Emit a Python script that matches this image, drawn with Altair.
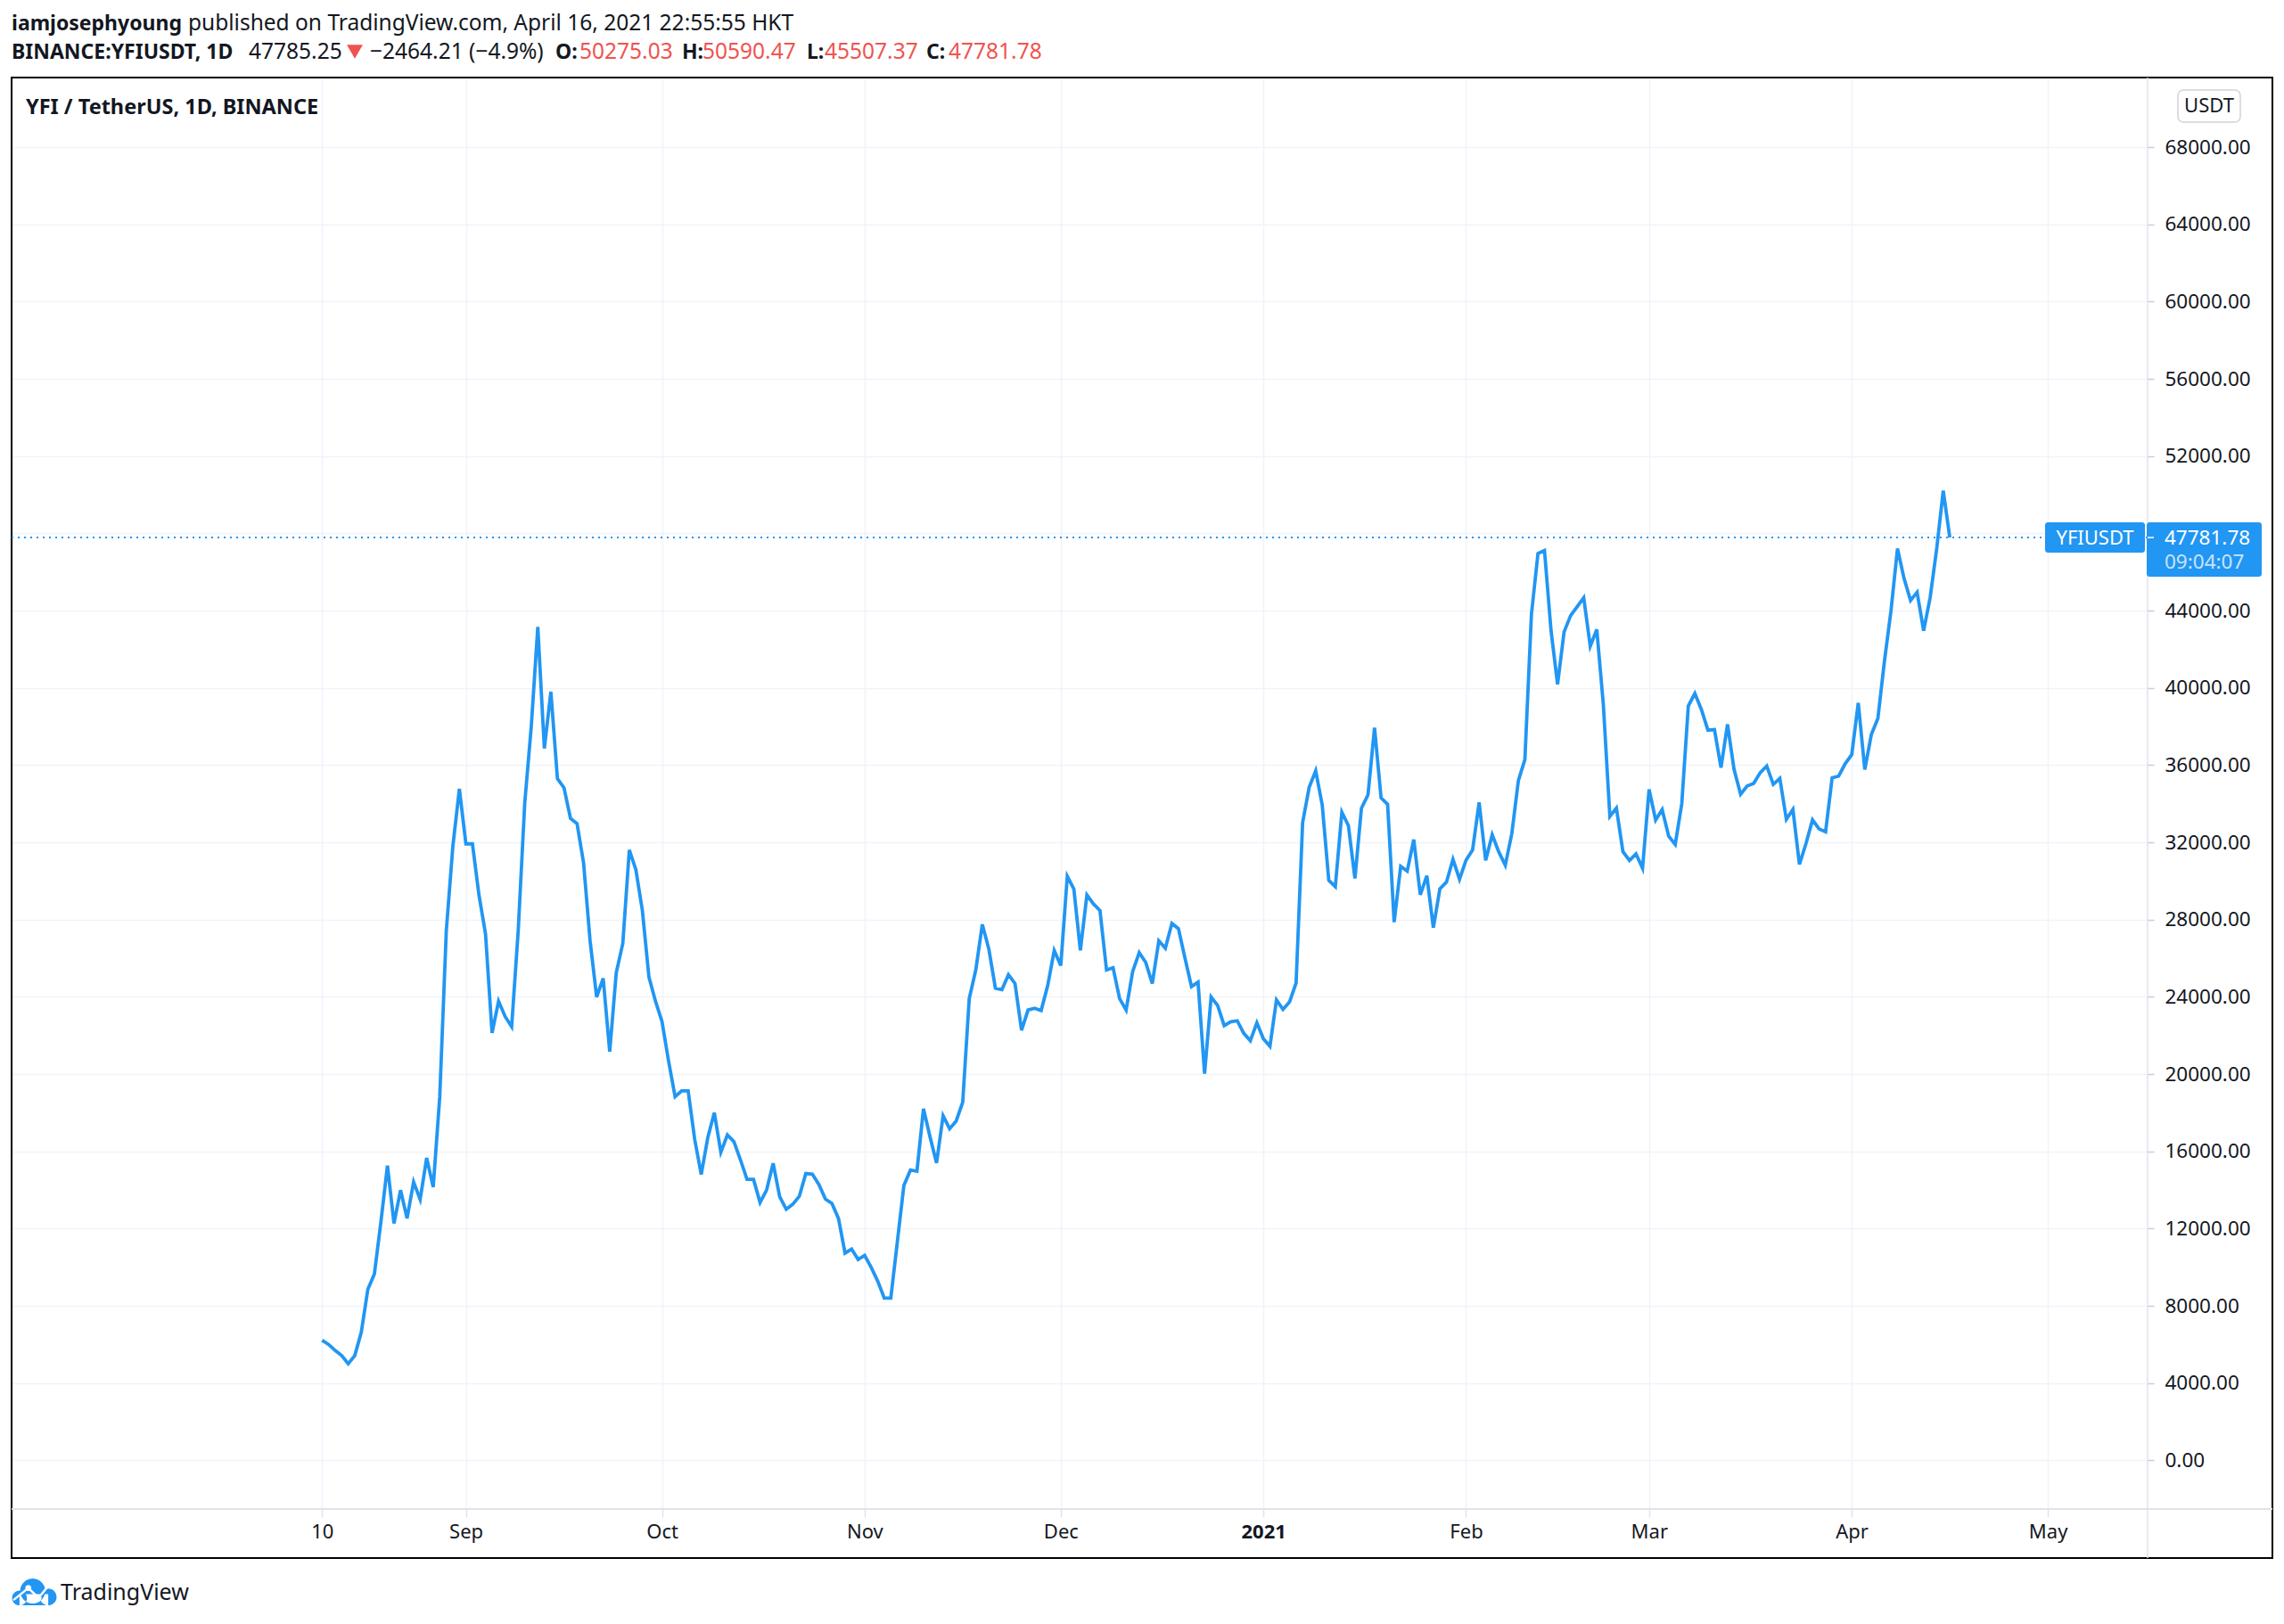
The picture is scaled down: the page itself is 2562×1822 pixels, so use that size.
import altair as alt
import pandas as pd

# ---------------- data (daily closes, YFI/USDT, Binance) ----------------
start_date = "2020-08-10"
aug = [6220, 6000, 5690, 5425, 5000, 5425, 6640, 8860, 9655, 12350, 15260,
       12270, 13990, 12530, 14410, 13515, 15660, 14150, 18830, 27420, 31780, 34770]
sep = [31920, 31920, 29270, 27260, 22130, 23770, 22980, 22450, 27420, 34030,
       38000, 43150, 36860, 39800, 35300, 34830, 33240, 32970, 30940, 26890,
       23990, 24960, 21160, 25250, 26760, 31600, 30590, 28460, 25020, 23780]
octo = [22720, 20680, 18830, 19130, 19130, 16620, 14800, 16710, 18000, 15950,
        16850, 16500, 15560, 14550, 14550, 13350, 14000, 15380, 13650, 13000,
        13260, 13670, 14850, 14820, 14280, 13530, 13300, 12520, 10730, 10940, 10400]
nov = [10610, 9990, 9280, 8400, 8400, 11310, 14230, 15030, 14970, 18210,
       16750, 15400, 17840, 17170, 17570, 18540, 23910, 25390, 27750, 26470,
       24450, 24370, 25150, 24690, 22270, 23320, 23410, 23290, 24580, 26400]
dec = [25620, 30240, 29590, 26400, 29280, 28810, 28470, 25390, 25510, 23910,
       23320, 25310, 26290, 25780, 24690, 26900, 26520, 27800, 27530, 26010,
       24530, 24760, 20020, 23990, 23550, 22510, 22710, 22760, 22110, 21730, 22660]
jan = [21830, 21440, 23840, 23350, 23740, 24720, 33020, 34850, 35700, 33930,
       30030, 29700, 33560, 32870, 30130, 33770, 34460, 37940, 34300, 33970,
       27870, 30760, 30510, 32140, 29290, 30270, 27580, 29600, 29940, 31120, 30090]
feb = [31080, 31610, 34070, 31060, 32390, 31510, 30820, 32450, 35190, 36290,
       43800, 46950, 47110, 42970, 40180, 42900, 43740, 44200, 44660, 42160,
       43020, 39140, 33340, 33770, 31520, 31060, 31400, 30660]
mar = [34740, 33160, 33700, 32320, 31890, 34000, 39060, 39710, 38880, 37810,
       37840, 35870, 38110, 35770, 34490, 34920, 35050, 35610, 35950, 35000,
       35310, 33190, 33700, 30860, 31930, 33160, 32700, 32550, 35340, 35430, 36070]
apr = [36540, 39220, 35770, 37580, 38420, 41370, 43980, 47210, 45670, 44520,
       44950, 42960, 44680, 47210, 50210, 47781.78]

y_ticks = list(range(0, 68001, 4000))
x_tick_dates = [(2020, 8, 10), (2020, 9, 1), (2020, 10, 1), (2020, 11, 1), (2020, 12, 1),
                (2021, 1, 1), (2021, 2, 1), (2021, 3, 1), (2021, 4, 1), (2021, 5, 1)]

closes = aug + sep + octo + nov + dec + jan + feb + mar + apr
dates = pd.date_range(start_date, periods=len(closes), freq="D")
df = pd.DataFrame({"date": dates.strftime("%Y-%m-%dT00:00:00"), "close": closes})
last_close = closes[-1]

# ---------------- styling ----------------
FONT = "Noto Sans"
TXT = "#131722"
BLUE = "#2196f3"
RED = "#ef5350"
GRID = "#f0f3fa"
SEP = "#e0e3eb"
W, H = 2395, 1606
FRAME_W, FRAME_H = 2536, 1661

x_scale = alt.Scale(domain=[alt.DateTime(year=2020, month=6, date=23, hours=12),
                            alt.DateTime(year=2021, month=5, date=16, hours=3)])
y_scale = alt.Scale(domain=[-2520, 71600], nice=False, zero=False)

x_axis = alt.Axis(
    values=[alt.DateTime(year=y, month=m, date=d) for (y, m, d) in x_tick_dates],
    labelExpr="date(datum.value) == 10 ? '10' : (month(datum.value) == 0 ? timeFormat(datum.value, '%Y') : timeFormat(datum.value, '%b'))",
    labelFontWeight={"condition": {"test": "month(datum.value) == 0", "value": "bold"}, "value": "normal"},
    grid=True, gridColor=GRID, gridWidth=1.5, domain=False,
    ticks=True, tickSize=9, tickColor=SEP, tickWidth=1.5,
    labelPadding=6, labelFontSize=22, labelFont=FONT, labelColor=TXT,
    labelFlush=False, labelOverlap=False, title=None,
)
y_axis = alt.Axis(
    orient="right", values=y_ticks, format=".2f",
    grid=True, gridColor=GRID, gridWidth=1.5, domain=False,
    ticks=True, tickSize=8, tickColor="#c9ccd4", tickWidth=1.5,
    labelPadding=12, labelFontSize=22.5, labelFont=FONT, labelColor=TXT,
    labelOverlap=False, labelFlush=False, title=None,
)

one = alt.Data(values=[{}])


def txt(s, x, y, size=22, color=TXT, weight="normal", align="left",
        baseline="alphabetic", opacity=1.0):
    return alt.Chart(one).mark_text(
        text=s, fontSize=size, color=color, fontWeight=weight, align=align,
        baseline=baseline, font=FONT, opacity=opacity
    ).encode(x=alt.value(x), y=alt.value(y))


line = alt.Chart(df).mark_line(color=BLUE, strokeWidth=3.8).encode(
    x=alt.X("date:T", scale=x_scale, axis=x_axis),
    y=alt.Y("close:Q", scale=y_scale, axis=y_axis),
)

price_df = pd.DataFrame({"close": [last_close]})
price_rule = alt.Chart(price_df).mark_rule(
    color=BLUE, strokeDash=[2, 5], strokeWidth=2
).encode(y=alt.Y("close:Q"), x=alt.value(0), x2=alt.value(W))

frame = alt.Chart(one).mark_rect(fillOpacity=0, stroke="#000000", strokeWidth=2).encode(
    x=alt.value(0), x2=alt.value(FRAME_W), y=alt.value(0), y2=alt.value(FRAME_H))
vsep = alt.Chart(one).mark_rule(color=SEP, strokeWidth=1.5).encode(
    x=alt.value(W + 1), y=alt.value(0), y2=alt.value(FRAME_H))
hsep = alt.Chart(one).mark_rule(color=SEP, strokeWidth=2).encode(
    x=alt.value(0), x2=alt.value(FRAME_W), y=alt.value(H))

# USDT badge
usdt_box = alt.Chart(one).mark_rect(fill="white", stroke="#d1d4dc", strokeWidth=1.5,
                                    cornerRadius=6).encode(
    x=alt.value(2430), x2=alt.value(2500), y=alt.value(14), y2=alt.value(50))
usdt_txt = txt("USDT", 2465, 32, size=22, align="center", baseline="middle")

# last price labels
sym_box = alt.Chart(one).mark_rect(fill=BLUE, cornerRadius=3).encode(
    x=alt.value(2281), x2=alt.value(2393), y=alt.value(499), y2=alt.value(533))
sym_txt = txt("YFIUSDT", 2337, 517, size=22, color="white", align="center", baseline="middle")
px_box = alt.Chart(one).mark_rect(fill=BLUE, cornerRadius=3).encode(
    x=alt.value(W), x2=alt.value(2524), y=alt.value(499), y2=alt.value(560))
px_tick = alt.Chart(price_df).mark_rule(color="white", strokeWidth=1.5).encode(
    y=alt.Y("close:Q"), x=alt.value(W + 1), x2=alt.value(W + 8))
px_txt = txt(f"{last_close:.2f}", 2415, 517, size=22.5, color="white", baseline="middle")
cd_txt = txt("09:04:07", 2415, 544, size=22.5, color="white", baseline="middle", opacity=0.75)

# chart title inside pane
pane_title = txt("YFI / TetherUS, 1D, BINANCE", 16, 41, size=23.5, weight="bold")

# header lines (above the frame)
h1y, h2y = -53, -21
RS = 24.5   # regular size
BS = 23     # bold size
header = [
    txt("iamjosephyoung", 0, h1y, size=BS, weight="bold"),
    txt("published on TradingView.com, April 16, 2021 22:55:55 HKT", 198, h1y, size=RS),
    txt("BINANCE:YFIUSDT, 1D", 0, h2y, size=BS, weight="bold"),
    txt("47785.25", 266, h2y, size=RS),
    txt("\u22122464.21 (\u22124.9%)", 402, h2y, size=RS),
    txt("O:", 610, h2y, size=BS, weight="bold"),
    txt("50275.03", 637, h2y, size=RS, color=RED),
    txt("H:", 752, h2y, size=BS, weight="bold"),
    txt("50590.47", 775, h2y, size=RS, color=RED),
    txt("L:", 892, h2y, size=BS, weight="bold"),
    txt("45507.37", 912, h2y, size=RS, color=RED),
    txt("C:", 1026, h2y, size=BS, weight="bold"),
    txt("47781.78", 1051, h2y, size=RS, color=RED),
]
down_tri = alt.Chart(one).mark_point(shape="triangle-down", filled=True, color=RED,
                                     size=320, opacity=1).encode(
    x=alt.value(385), y=alt.value(-29))

# TradingView footer logo (cloud with a white chart line)
def circ(cx, cy, r):
    return (f"M {cx - r} {cy} A {r} {r} 0 1 0 {cx + r} {cy} "
            f"A {r} {r} 0 1 0 {cx - r} {cy} Z ")


cloud = (circ(-0.62, 0.26, 0.32) + circ(-0.05, -0.04, 0.54) + circ(0.62, 0.22, 0.36)
         + "M -0.62 0.1 L 0.62 0.1 L 0.62 0.58 L -0.62 0.58 Z")
zig = "M -0.88 0.35 L -0.24 -0.17 L 0.2 0.26 L 0.65 -0.29"
LX, LY = 25, 1699
logo_fill = alt.Chart(one).mark_point(shape=cloud, filled=True, color=BLUE, size=2704,
                                      opacity=1, strokeWidth=0).encode(
    x=alt.value(LX), y=alt.value(LY))
logo_line = alt.Chart(one).mark_point(shape=zig, filled=False, color="white", size=2704,
                                      strokeWidth=2.5, opacity=1).encode(
    x=alt.value(LX), y=alt.value(LY))
logo_nodes = [
    alt.Chart(one).mark_point(shape="circle", filled=True, color="white", size=45,
                              opacity=1).encode(x=alt.value(LX + nx * 26), y=alt.value(LY + ny * 26))
    for (nx, ny) in [(-0.24, -0.17), (0.2, 0.26)]
]
logo_txt = txt("TradingView", 55, 1700, size=25, baseline="middle")

chart = alt.layer(
    line, frame, vsep, hsep, price_rule,
    usdt_box, usdt_txt, sym_box, sym_txt, px_box, px_tick, px_txt, cd_txt,
    pane_title, *header, down_tri, logo_fill, logo_line, *logo_nodes, logo_txt,
).properties(
    width=W, height=H,
    autosize=alt.AutoSizeParams(type="none"),
    padding={"left": 5, "top": 79, "right": 142, "bottom": 109},
    background="white",
).configure_view(stroke=None)

chart.save("out.html", embed_options={"renderer": "svg", "actions": False})
